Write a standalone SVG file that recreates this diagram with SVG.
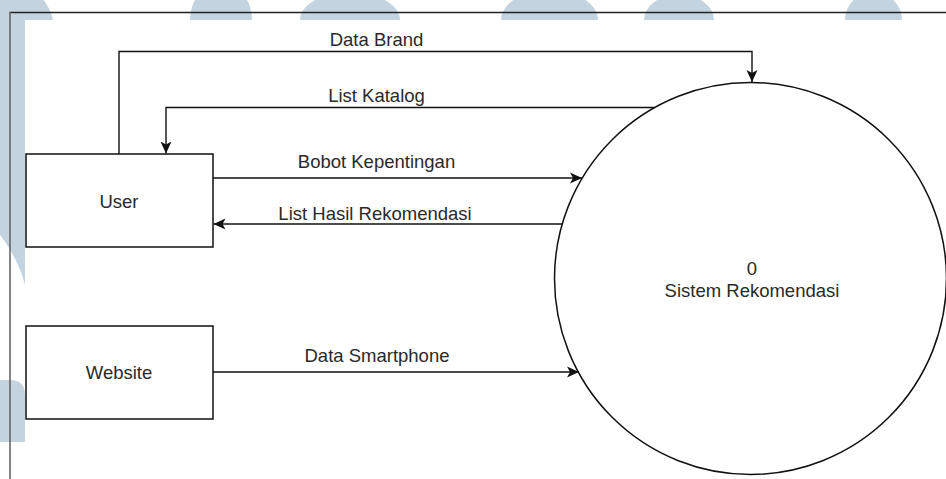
<svg xmlns="http://www.w3.org/2000/svg" width="946" height="479" viewBox="0 0 946 479">
  <style>
    .lbl { font-family: "Liberation Sans", Arial, Helvetica, sans-serif; font-size: 18.5px; fill: #2a2a2a; text-anchor: middle; }
    .box { fill: #fff; stroke: #111; stroke-width: 1.5; }
    .flow { fill: none; stroke: #111; stroke-width: 1.4; }
    .mark { fill: #c3d3e0; }
  </style>
  <defs>
    <marker id="arrow" markerUnits="userSpaceOnUse" markerWidth="13" markerHeight="13" viewBox="0 0 13 13" refX="12" refY="6.5" orient="auto">
      <path d="M0,1 L12,6.5 L0,12 L3,6.5 Z" fill="#111"/>
    </marker>
    <!-- background pattern only shows in the margins around the panel -->
    <clipPath id="margin">
      <path d="M0,0 H946 V20 H25 V479 H0 Z"/>
    </clipPath>
  </defs>

  <rect width="946" height="479" fill="#fff"/>

  <!-- background pattern -->
  <g id="backdrop" clip-path="url(#margin)">
    <path class="mark" d="M0,-20 Q45,-15 53,20 H25 V285 C20,265 10,248 0,235 Z"/>
    <path class="mark" d="M0,380 H10 Q25,380 25,395 V442 H0 Z"/>
    <ellipse class="mark" cx="221" cy="20" rx="31" ry="37"/>
    <ellipse class="mark" cx="350" cy="20" rx="50" ry="28"/>
    <ellipse class="mark" cx="549.5" cy="20" rx="48.5" ry="30"/>
    <ellipse class="mark" cx="679" cy="20" rx="35" ry="25.5"/>
    <ellipse class="mark" cx="873.5" cy="20" rx="28.5" ry="28"/>
  </g>

  <!-- frame -->
  <g id="frame">
    <line x1="9.5" y1="12.5" x2="946" y2="12.5" stroke="#222" stroke-width="1.3"/>
    <line x1="10" y1="12" x2="10" y2="479" stroke="#666" stroke-width="1.6"/>
  </g>

  <!-- data flows -->
  <g id="connectors">
    <path class="flow" d="M119,154 V51.5 H752 V82" marker-end="url(#arrow)"/>
    <path class="flow" d="M654.5,107.5 H166 V153.5" marker-end="url(#arrow)"/>
    <path class="flow" d="M213,178 H582" marker-end="url(#arrow)"/>
    <path class="flow" d="M562,224 H213.5" marker-end="url(#arrow)"/>
    <path class="flow" d="M213,372 H579" marker-end="url(#arrow)"/>
    <text class="lbl" x="376.5" y="46">Data Brand</text>
    <text class="lbl" x="376.5" y="101.5">List Katalog</text>
    <text class="lbl" x="376.5" y="167.5">Bobot Kepentingan</text>
    <text class="lbl" x="375" y="219.5">List Hasil Rekomendasi</text>
    <text class="lbl" x="377" y="362">Data Smartphone</text>
  </g>

  <!-- external entities -->
  <g id="user">
    <rect class="box" x="26" y="154" width="187" height="93"/>
    <text class="lbl" x="119" y="208">User</text>
  </g>
  <g id="website">
    <rect class="box" x="26" y="326" width="187" height="93"/>
    <text class="lbl" x="119" y="379">Website</text>
  </g>

  <!-- process -->
  <g id="process">
    <circle cx="750.5" cy="278.5" r="196" fill="none" stroke="#111" stroke-width="1.5"/>
    <text class="lbl" x="752" y="275">0</text>
    <text class="lbl" x="752" y="297">Sistem Rekomendasi</text>
  </g>
</svg>
